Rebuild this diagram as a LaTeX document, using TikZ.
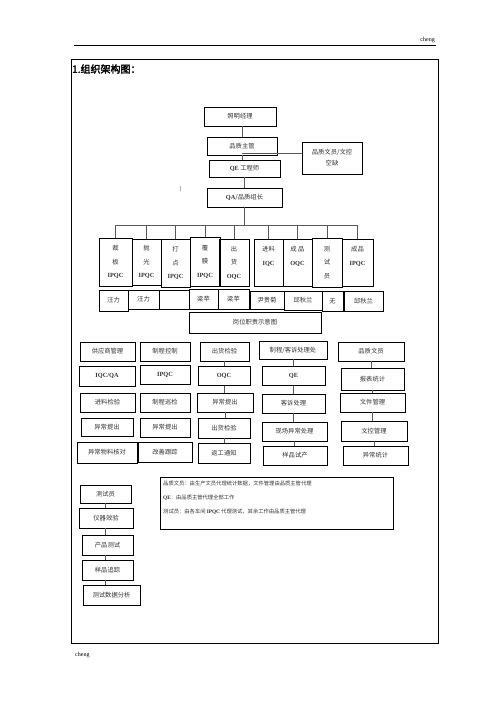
\documentclass[tikz,border=0pt]{standalone}
\usepackage{fontspec}
\setmainfont{Liberation Serif}
\newfontfamily\cjk{Noto Sans CJK SC}
\newfontfamily\cjkb[FakeBold=2.5]{Noto Sans CJK SC}
\newcommand\lb[1]{{\rmfamily\bfseries #1}}
\newcommand\mkbox[7][bx]{%
 \pgfmathsetmacro\mbcx{(#3+#5)/2}%
 \pgfmathsetmacro\mbcy{(#4+#6)/2}%
 \pgfmathsetmacro\mbw{#5-#3}%
 \pgfmathsetmacro\mbh{#6-#4}%
 \node[#1,minimum width=\mbw pt,minimum height=\mbh pt] (#2) at (\mbcx,\mbcy) {#7};}
\begin{document}
\begin{tikzpicture}[x=1pt,y=-1pt,
  bx/.style={draw, line width=0.6pt, inner sep=0pt, font=\cjk\fontsize{6.3}{8}\selectfont, text=black!80, align=center},
  bxk/.style={bx, line width=1pt},
  vb/.style={bx, font=\cjk\fontsize{6.3}{13.5}\selectfont},
  ln/.style={line width=0.6pt, draw=black!65}]
\useasboundingbox (0,0) rectangle (496,702);
% page decoration
\node[anchor=south east, inner sep=0pt, font=\rmfamily\fontsize{6}{7}\selectfont] (hdr) at (435,43) {cheng};
\draw[line width=0.8pt] (74,45) -- (436,45);
\draw[line width=0.9pt] (71,59) rectangle (438,643);
\node[anchor=west, inner sep=0pt, font=\rmfamily\fontsize{6}{7}\selectfont] (ftr) at (75,655) {cheng};
\node[anchor=west, inner sep=0pt, font=\cjkb\fontsize{10}{12}\selectfont] (title) at (72,69) {1.组织架构图：};
% top hierarchy
\mkbox{mgr}{204}{107}{276}{126}{照明经理}
\mkbox{sup}{207}{137}{277}{155}{品质主管}
\mkbox{qe}{209}{160}{280}{177}{\lb{QE} 工程师}
\mkbox{qa}{207}{188}{282}{207}{\lb{QA}/品质组长}
\mkbox{clerk}{302}{142}{362}{174}{品质文员/文控\\[3pt]空缺}
\node[inner sep=0pt, font=\rmfamily\fontsize{6}{7}\selectfont] (tick) at (181,189) {|};
\draw[ln] (mgr.south -| sup.north) -- (sup.north);
\draw[ln] (sup.south) -- (sup.south |- qe.north);
\coordinate (jn) at ([yshift=2.5pt]sup.south);
\draw[ln] (jn) -- (jn -| clerk.west);
\draw[ln] (qe.south -| qa.north) -- (qa.north);
% second level
\mkbox[vb]{b1}{99}{238}{132}{286}{裁\\板\\\lb{IPQC}}
\mkbox[vb]{b2}{132}{239}{161}{285}{抛\\光\\\lb{IPQC}}
\mkbox[vb]{b3}{161}{239}{190}{287}{打\\点\\\lb{IPQC}}
\mkbox[vb]{b4}{190}{237}{220}{286}{覆\\膜\\\lb{IPQC}}
\mkbox[vb]{b5}{219}{239}{249}{286}{出\\货\\\lb{OQC}}
\mkbox[vb]{b6}{254}{239}{283}{286}{进料\\\lb{IQC}\\~}
\mkbox[vb]{b7}{283}{239}{312}{286}{成 品\\\lb{OQC}\\~}
\mkbox[vb]{b8}{312}{238}{342}{287}{测\\试\\员}
\mkbox[vb]{b9}{342}{239}{373}{286}{成品\\\lb{IPQC}\\~}
\draw[ln] (qa.south) -- ++(0,18) coordinate (bus);
\draw[ln] (b1.north |- bus) -- (b9.north |- bus);
\foreach \b in {b1,b2,b3,b4,b5,b6,b7,b8,b9} \draw[ln] (\b.north |- bus) -- (\b.north);
% names
\mkbox{n1}{99}{290}{128}{311}{汪力}
\mkbox{n2}{128}{290}{159}{309}{汪力}
\mkbox{n3}{159}{290}{189}{309}{}
\mkbox{n4}{189}{289}{218}{309}{梁苹}
\mkbox{n5}{218}{289}{249}{309}{梁苹}
\mkbox{n6}{250}{291}{284}{309}{尹贵菊}
\mkbox{n7}{284}{291}{322}{310}{邱秋兰}
\mkbox{n8}{322}{291}{343}{311}{无}
\mkbox{n9}{344}{291}{383}{311}{邱秋兰}
\mkbox{cap}{189}{312}{321}{333}{岗位职责示意图}
% duty columns
\mkbox{c1a}{80}{342}{135}{361}{供应商管理}
\mkbox[bxk]{c1b}{79}{366}{135}{386}{\lb{IQC/QA}}
\mkbox{c1c}{80}{393}{135}{412}{进料检验}
\mkbox{c1d}{81}{418}{133}{436}{异常提出}
\mkbox{c1e}{77}{442}{137}{463}{异常物料核对}
\mkbox{c2a}{140}{342}{190}{361}{制程控制}
\mkbox[bxk]{c2b}{140}{365}{190}{384}{\lb{IPQC}}
\mkbox{c2c}{140}{393}{190}{412}{制程巡检}
\mkbox{c2d}{140}{418}{190}{437}{异常提出}
\mkbox{c2e}{138}{442}{192}{462}{改善跟踪}
\mkbox{c3a}{200}{342}{249}{361}{出货检验}
\mkbox[bxk]{c3b}{198}{366}{250}{385}{\lb{OQC}}
\mkbox{c3c}{197}{393}{253}{412}{异常提出}
\mkbox{c3d}{198}{418}{250}{438}{出货检验}
\mkbox{c3e}{198}{443}{250}{463}{返工通知}
\mkbox{c4a}{259}{341}{327}{359}{制程/客诉处理处}
\mkbox[bxk]{c4b}{262}{366}{325}{385}{\lb{QE}}
\mkbox{c4c}{262}{394}{325}{413}{客诉处理}
\mkbox{c4d}{262}{422}{327}{441}{现场异常处理}
\mkbox{c4e}{263}{446}{327}{465}{样品试产}
\mkbox{c5a}{338}{342}{404}{361}{品质文员}
\mkbox{c5b}{341}{368}{404}{390}{报表统计}
\mkbox{c5c}{340}{393}{405}{412}{文件管理}
\mkbox{c5d}{341}{421}{407}{441}{文控管理}
\mkbox{c5e}{343}{446}{408}{465}{异常统计}
\foreach \c in {c3,c4,c5} {
  \draw[ln] (\c a.south) -- (\c a.south |- \c b.north);
  \draw[ln] (\c b.south) -- (\c b.south |- \c c.north);
  \draw[ln] (\c c.south) -- (\c c.south |- \c d.north);
  \draw[ln] (\c d.south) -- (\c d.south |- \c e.north);
}
% tester column
\mkbox{t1}{80}{485}{131}{503}{测试员}
\mkbox{t2}{79}{508}{133}{528}{仪器效验}
\mkbox{t3}{82}{535}{133}{555}{产品测试}
\mkbox{t4}{82}{560}{133}{580}{样品追踪}
\mkbox{t5}{83}{585}{140}{605}{测试数据分析}
\draw[ln] (t1.south) -- (t1.south |- t2.north);
\draw[ln] (t2.south -| t1.south) -- (t1.south |- t3.north);
\draw[ln] (t3.south -| t1.south) -- (t1.south |- t4.north);
\draw[ln] (t4.south -| t1.south) -- (t1.south |- t5.north);
% note
\mkbox{note}{160}{477}{393}{529}{}
\node[anchor=north west, inner sep=0pt, align=left, text=black!80, font=\cjk\fontsize{5.3}{14}\selectfont] (notetxt) at (163,481)
 {品质文员：由生产文员代理统计数据，文件管理由品质主管代理\\
  \lb{QE}：由品质主管代理全部工作\\
  测试员：由各车间 \lb{IPQC} 代理测试，其余工作由品质主管代理};
\end{tikzpicture}
\end{document}
